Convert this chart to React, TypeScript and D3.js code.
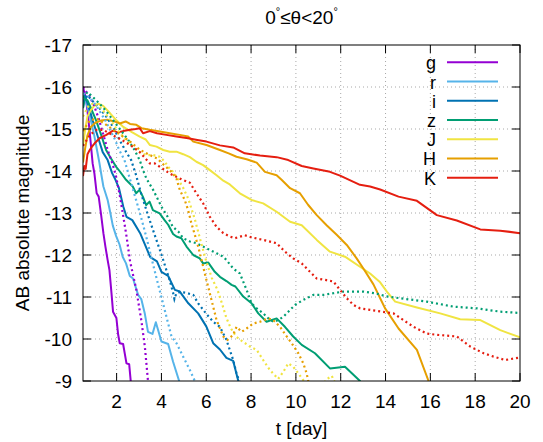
import React from 'react';
import * as d3 from 'd3';

type Pt = [number, number];

// t [day], AB absolute magnitude
const gSolid: Pt[] = [[0.5,-16.0],[0.64,-15.7],[0.71,-15.37],[0.79,-14.98],[0.86,-14.58],[0.93,-14.18],[1.01,-13.94],[1.11,-13.47],[1.2,-13.39],[1.31,-12.95],[1.41,-12.52],[1.5,-12.2],[1.6,-11.88],[1.68,-11.64],[1.77,-11.1],[1.84,-10.65],[1.99,-10.5],[2.07,-10.1],[2.14,-9.9],[2.29,-9.88],[2.44,-9.42],[2.56,-9.4],[2.63,-9.0],[2.7,-8.6]];
const gDotted: Pt[] = [[0.5,-16.0],[0.8,-15.77],[1.0,-15.55],[1.2,-15.25],[1.4,-14.88],[1.6,-14.5],[1.83,-14.15],[1.98,-13.86],[2.13,-13.45],[2.2,-13.23],[2.35,-12.75],[2.44,-12.45],[2.6,-11.85],[2.88,-11.17],[3.1,-10.45],[3.26,-9.82],[3.4,-9.0],[3.45,-8.8]];

const rSolid: Pt[] = [[0.5,-15.8],[0.6,-15.72],[0.79,-15.35],[1.0,-14.85],[1.16,-14.4],[1.23,-14.2],[1.31,-13.94],[1.41,-13.63],[1.6,-13.31],[1.71,-13.03],[1.83,-12.7],[1.98,-12.45],[2.13,-12.25],[2.27,-11.96],[2.42,-11.8],[2.59,-11.5],[2.73,-11.44],[2.96,-11.05],[3.1,-10.95],[3.26,-10.6],[3.4,-10.17],[3.6,-10.12],[3.75,-10.4],[4.0,-9.94],[4.3,-9.88],[4.52,-9.46],[4.79,-9.0],[4.85,-8.9]];
const rDotted: Pt[] = [[0.5,-15.85],[0.8,-15.75],[1.1,-15.55],[1.5,-15.2],[1.9,-14.78],[2.1,-14.52],[2.35,-14.26],[2.6,-13.8],[2.87,-13.31],[3.1,-12.88],[3.32,-12.44],[3.5,-12.05],[3.69,-11.64],[3.9,-11.2],[4.07,-10.85],[4.3,-10.37],[4.45,-10.06],[4.67,-9.9],[4.97,-9.58],[5.27,-9.26],[5.49,-9.0],[5.55,-8.9]];

const iSolid: Pt[] = [[0.5,-15.5],[0.58,-15.8],[0.68,-15.65],[0.8,-15.45],[0.93,-15.21],[1.16,-14.82],[1.38,-14.45],[1.6,-14.26],[1.8,-13.95],[1.95,-13.79],[2.1,-13.6],[2.3,-13.15],[2.44,-12.91],[2.7,-12.83],[3.05,-12.52],[3.5,-11.95],[3.8,-11.85],[4.0,-11.6],[4.3,-11.5],[4.6,-11.17],[4.82,-11.13],[5.2,-10.85],[5.64,-10.61],[6.0,-10.3],[6.31,-9.9],[6.61,-9.75],[6.9,-9.55],[7.2,-9.48],[7.43,-9.0],[7.48,-8.8]];
const iDotted: Pt[] = [[0.5,-15.65],[0.7,-15.8],[1.0,-15.62],[1.23,-15.5],[1.53,-15.3],[1.83,-15.06],[2.13,-14.74],[2.42,-14.46],[2.65,-14.26],[2.87,-13.9],[3.09,-13.47],[3.4,-12.95],[3.62,-12.6],[3.93,-12.12],[4.08,-11.88],[4.22,-11.64],[4.37,-11.4],[4.52,-11.1],[4.58,-10.95],[4.66,-11.08],[4.82,-11.12],[5.1,-11.1],[5.42,-11.05],[5.64,-10.85],[6.0,-10.6],[6.31,-10.41],[6.61,-10.29],[6.9,-9.98],[7.2,-9.5],[7.35,-9.18],[7.47,-9.0],[7.52,-8.8]];

const zSolid: Pt[] = [[0.5,-15.5],[0.57,-15.72],[0.7,-15.68],[0.85,-15.5],[1.08,-15.21],[1.31,-14.86],[1.53,-14.5],[1.75,-14.3],[1.98,-14.1],[2.13,-14.0],[2.42,-13.79],[2.72,-13.63],[2.87,-13.47],[3.02,-13.55],[3.17,-13.39],[3.32,-13.19],[3.47,-13.27],[3.62,-13.07],[3.92,-12.99],[4.14,-12.83],[4.3,-12.72],[4.52,-12.5],[4.67,-12.44],[4.89,-12.4],[5.12,-12.2],[5.42,-12.0],[5.71,-11.92],[5.86,-11.8],[6.09,-11.82],[6.38,-11.6],[6.61,-11.48],[6.9,-11.38],[7.13,-11.29],[7.3,-11.25],[7.65,-11.01],[8.02,-10.85],[8.32,-10.61],[8.69,-10.41],[9.14,-10.49],[9.51,-10.29],[9.88,-10.06],[10.26,-9.86],[10.85,-9.66],[11.52,-9.3],[12.19,-9.34],[12.86,-9.0],[12.95,-8.9]];
const zDotted: Pt[] = [[0.5,-15.75],[0.7,-15.88],[1.1,-15.68],[1.5,-15.45],[2.0,-15.1],[2.5,-14.75],[2.8,-14.5],[3.03,-14.26],[3.18,-14.02],[3.33,-13.82],[3.63,-13.55],[3.78,-13.39],[4.0,-13.15],[4.29,-12.9],[4.51,-12.67],[4.75,-12.56],[4.97,-12.4],[5.27,-12.32],[5.56,-12.28],[5.86,-12.2],[6.16,-12.12],[6.46,-12.04],[6.76,-11.96],[6.9,-11.88],[7.2,-11.68],[7.5,-11.56],[7.8,-11.17],[8.02,-10.85],[8.25,-10.73],[8.54,-10.61],[8.77,-10.49],[8.99,-10.41],[9.21,-10.45],[9.44,-10.53],[9.66,-10.65],[9.96,-10.81],[10.33,-10.93],[10.78,-11.05],[11.22,-11.05],[11.67,-11.09],[12.12,-11.13],[12.57,-11.13],[13.01,-11.13],[13.61,-11.08],[14.0,-11.02],[14.65,-10.97],[15.84,-10.89],[17.03,-10.77],[18.08,-10.73],[19.12,-10.65],[20,-10.62]];

const jSolid: Pt[] = [[0.5,-14.6],[0.6,-15.0],[0.7,-15.3],[0.85,-15.45],[1.0,-15.55],[1.2,-15.6],[1.4,-15.55],[1.7,-15.38],[2.0,-15.2],[2.3,-15.05],[2.7,-14.92],[3.03,-14.82],[3.3,-14.75],[3.48,-14.62],[3.78,-14.58],[4.08,-14.5],[4.37,-14.46],[4.67,-14.46],[4.97,-14.4],[5.27,-14.33],[5.56,-14.22],[5.86,-14.14],[6.16,-14.02],[6.46,-13.9],[6.76,-13.77],[7.05,-13.68],[7.5,-13.47],[8.02,-13.31],[8.54,-13.23],[9.14,-13.03],[9.74,-12.79],[10.26,-12.71],[10.93,-12.36],[11.52,-12.08],[12.19,-11.96],[12.86,-11.72],[13.31,-11.56],[13.76,-11.35],[14.06,-11.13],[14.43,-10.89],[15.4,-10.75],[16.44,-10.61],[17.33,-10.47],[18.23,-10.45],[19.12,-10.21],[20,-10.04]];
const jDotted: Pt[] = [[0.5,-15.3],[0.75,-15.55],[1.0,-15.62],[1.3,-15.5],[1.6,-15.3],[2.0,-15.0],[2.4,-14.75],[2.8,-14.55],[3.1,-14.42],[3.33,-14.38],[3.63,-14.38],[3.93,-14.34],[4.15,-14.22],[4.3,-14.1],[4.52,-13.98],[4.75,-13.8],[4.97,-13.6],[5.19,-13.35],[5.34,-13.1],[5.49,-12.85],[5.64,-12.55],[5.79,-12.25],[6.0,-11.85],[6.25,-11.45],[6.5,-11.17],[6.7,-10.85],[6.9,-10.5],[7.1,-10.25],[7.35,-10.05],[7.6,-9.95],[7.95,-9.82],[8.25,-9.74],[8.54,-9.5],[8.84,-9.26],[9.21,-9.05],[9.44,-9.22],[9.66,-9.42],[9.88,-9.34],[10.11,-9.18],[10.33,-9.02],[10.6,-8.8],[11.1,-8.85],[11.4,-9.05],[11.6,-9.12],[11.8,-8.9]];

const hSolid: Pt[] = [[0.5,-14.2],[0.6,-14.55],[0.7,-14.85],[0.85,-15.05],[1.05,-15.15],[1.3,-15.2],[1.6,-15.22],[1.9,-15.18],[2.14,-15.13],[2.4,-15.18],[2.6,-15.12],[2.88,-15.1],[3.11,-15.02],[3.48,-14.98],[3.93,-14.94],[4.37,-14.9],[4.82,-14.86],[5.19,-14.82],[5.42,-14.7],[6.01,-14.62],[6.61,-14.5],[7.0,-14.42],[7.35,-14.34],[7.8,-14.28],[8.25,-14.2],[8.62,-13.98],[9.14,-13.9],[9.36,-13.79],[9.74,-13.59],[10.18,-13.47],[10.55,-13.19],[10.93,-12.95],[11.37,-12.71],[11.82,-12.48],[12.27,-12.24],[12.71,-11.92],[13.01,-11.68],[13.46,-11.3],[13.76,-10.97],[13.98,-10.73],[14.58,-10.25],[15.4,-9.74],[15.92,-9.0],[16.0,-8.8]];
const hDotted: Pt[] = [[0.5,-14.95],[0.8,-15.2],[1.1,-15.25],[1.4,-15.15],[1.8,-15.0],[2.2,-14.85],[2.6,-14.7],[3.0,-14.52],[3.4,-14.4],[3.8,-14.3],[4.1,-14.15],[4.45,-13.98],[4.67,-13.82],[4.82,-13.55],[5.04,-13.31],[5.19,-13.07],[5.34,-12.75],[5.49,-12.48],[5.64,-12.2],[5.79,-11.88],[5.94,-11.55],[6.12,-11.17],[6.46,-10.45],[6.76,-10.06],[6.95,-9.98],[7.2,-10.1],[7.35,-10.29],[7.58,-10.17],[7.8,-10.25],[8.1,-10.37],[8.4,-10.41],[8.77,-10.49],[8.99,-10.45],[9.29,-10.29],[9.59,-10.06],[9.81,-9.9],[10.11,-9.66],[10.33,-9.42],[10.48,-9.18],[10.55,-9.0],[10.6,-8.8]];

const kSolid: Pt[] = [[0.5,-13.88],[0.56,-14.12],[0.62,-14.05],[0.7,-14.4],[0.8,-14.5],[0.9,-14.58],[1.02,-14.66],[1.24,-14.78],[1.54,-14.86],[1.84,-14.96],[2.05,-14.92],[2.29,-14.95],[2.6,-14.98],[2.85,-15.0],[3.03,-15.02],[3.18,-14.9],[3.48,-14.95],[3.8,-14.9],[4.22,-14.86],[4.67,-14.82],[5.19,-14.78],[5.6,-14.74],[6.01,-14.7],[6.61,-14.61],[7.2,-14.56],[7.72,-14.42],[8.4,-14.37],[9.14,-14.33],[9.66,-14.26],[10.26,-14.12],[10.78,-14.06],[11.52,-13.98],[11.97,-13.89],[12.86,-13.67],[13.31,-13.63],[13.76,-13.56],[14.58,-13.39],[15.4,-13.29],[16.29,-12.95],[17.18,-12.82],[18.23,-12.61],[19.12,-12.58],[20,-12.52]];
const kDotted: Pt[] = [[0.5,-14.6],[0.8,-14.85],[1.1,-14.98],[1.4,-14.98],[1.8,-14.86],[2.2,-14.75],[2.6,-14.62],[3.03,-14.45],[3.48,-14.18],[3.7,-14.18],[3.93,-14.1],[4.37,-13.94],[4.67,-13.86],[4.9,-13.8],[5.27,-13.72],[5.56,-13.47],[5.86,-13.23],[6.16,-12.91],[6.46,-12.67],[6.76,-12.52],[7.05,-12.44],[7.28,-12.4],[7.72,-12.47],[8.02,-12.42],[8.54,-12.36],[9.14,-12.28],[9.51,-12.08],[9.88,-11.92],[10.26,-11.8],[10.63,-11.6],[10.93,-11.44],[11.37,-11.4],[11.67,-11.37],[11.97,-11.17],[12.27,-10.97],[12.57,-10.81],[12.86,-10.73],[13.61,-10.67],[14.35,-10.61],[14.8,-10.45],[15.25,-10.29],[15.84,-10.13],[16.29,-10.1],[17.18,-10.06],[17.78,-9.82],[18.38,-9.66],[18.82,-9.58],[19.34,-9.5],[20,-9.56]];

const bands = ['g', 'r', 'i', 'z', 'J', 'H', 'K'];
const colors = ['#9400d3', '#56b4e9', '#0072b2', '#009e73', '#f0e442', '#e69f00', '#e51e10'];
const solids = [gSolid, rSolid, iSolid, zSolid, jSolid, hSolid, kSolid];
const dotteds = [gDotted, rDotted, iDotted, zDotted, jDotted, hDotted, kDotted];

const xTicks = [2, 4, 6, 8, 10, 12, 14, 16, 18, 20];
const yTicks = [-17, -16, -15, -14, -13, -12, -11, -10, -9];

const W = 543;
const H = 442;
const left = 83;
const right = 520;
const top = 45;
const bottom = 381;
const font = "'Liberation Sans', Arial, sans-serif";

export default function App() {
  const x = d3.scaleLinear().domain([0.5, 20]).range([left, right]);
  const y = d3.scaleLinear().domain([-17, -9]).range([top, bottom]);
  const line = d3.line<Pt>().x(d => x(d[0])).y(d => y(d[1]));

  const series = bands.map((b, i) => ({ band: b, color: colors[i], solid: solids[i], dotted: dotteds[i] }));

  return (
    <svg width={W} height={H} style={{ position: 'absolute', left: 0, top: 0, background: '#fff' }}
      fontFamily={font} fontSize={19}>
      <defs>
        <clipPath id="plot">
          <rect x={left} y={top} width={right - left} height={bottom - top} />
        </clipPath>
      </defs>
      <rect x={0} y={0} width={W} height={H} fill="#fff" />

      {/* grid */}
      {xTicks.filter(t => t < 20).map(t => (
        <line key={'gx' + t} x1={x(t)} x2={x(t)} y1={top} y2={bottom}
          stroke="#a8a8a8" strokeWidth={1} strokeDasharray="1 3" />
      ))}
      {yTicks.filter(v => v > -17 && v < -9).map(v => (
        <line key={'gy' + v} x1={left} x2={right} y1={y(v)} y2={y(v)}
          stroke="#a8a8a8" strokeWidth={1} strokeDasharray="1 3" />
      ))}

      {/* curves */}
      <g clipPath="url(#plot)" fill="none">
        {series.map(s => (
          <path key={'s' + s.band} d={line(s.solid) || ''} stroke={s.color} strokeWidth={2} strokeLinejoin="round" />
        ))}
        {series.map(s => (
          <path key={'d' + s.band} d={line(s.dotted) || ''} stroke={s.color} strokeWidth={2.2} strokeDasharray="2 3" />
        ))}
      </g>

      {/* border and ticks */}
      <rect x={left} y={top} width={right - left} height={bottom - top} fill="none" stroke="#000" strokeWidth={1} />
      {xTicks.map(t => (
        <g key={'tx' + t}>
          <line x1={x(t)} x2={x(t)} y1={bottom} y2={bottom - 8} stroke="#000" />
          <line x1={x(t)} x2={x(t)} y1={top} y2={top + 8} stroke="#000" />
          <text x={x(t)} y={408} textAnchor="middle">{t}</text>
        </g>
      ))}
      {yTicks.map(v => (
        <g key={'ty' + v}>
          <line x1={left} x2={left + 8} y1={y(v)} y2={y(v)} stroke="#000" />
          <line x1={right} x2={right - 8} y1={y(v)} y2={y(v)} stroke="#000" />
          <text x={72} y={y(v)} dy="0.36em" textAnchor="end">{v}</text>
        </g>
      ))}

      {/* labels */}
      <text x={(left + right) / 2} y={435} textAnchor="middle">t [day]</text>
      <text transform={`translate(29,${(top + bottom) / 2}) rotate(-90)`} textAnchor="middle">AB absolute magnitude</text>
      <text x={(left + right) / 2} y={24} textAnchor="middle">
        0<tspan fontSize={11} dy={-9}>°</tspan><tspan dy={9}>{'≤θ<20'}</tspan><tspan fontSize={11} dy={-9}>°</tspan>
      </text>

      {/* legend */}
      {series.map((s, i) => {
        const ry = 62.3 + i * 19.23;
        return (
          <g key={'l' + s.band}>
            <text x={436} y={ry + 7} textAnchor="end" fontSize={18}>{s.band}</text>
            <line x1={447} x2={498} y1={ry} y2={ry} stroke={s.color} strokeWidth={2} />
          </g>
        );
      })}
    </svg>
  );
}
